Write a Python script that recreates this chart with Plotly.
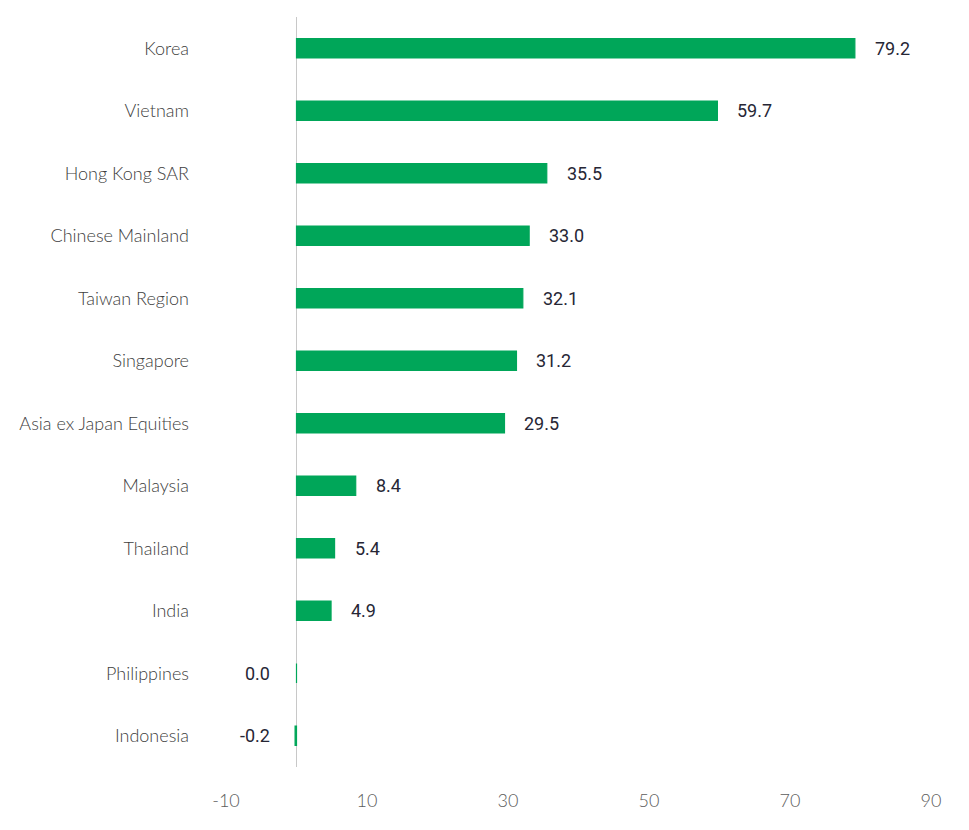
import plotly.graph_objects as go

# Data, listed top to bottom as in the chart
markets = ['Korea', 'Vietnam', 'Hong Kong SAR', 'Chinese Mainland', 'Taiwan Region',
           'Singapore', 'Asia ex Japan Equities', 'Malaysia', 'Thailand', 'India',
           'Philippines', 'Indonesia']
returns = [79.2, 59.7, 35.5, 33.0, 32.1, 31.2, 29.5, 8.4, 5.4, 4.9, 0.0, -0.2]
x_ticks = [-10, 10, 30, 50, 70, 90]

green = '#00A659'
label_font = 'Lato, sans-serif'

fig = go.Figure()

fig.add_trace(go.Bar(
    x=returns,
    y=markets,
    orientation='h',
    width=0.31,
    marker=dict(color=green, line=dict(color=green, width=1.2)),
    hoverinfo='x+y',
))

# value labels: right of positive bars, left of the axis for zero / negative
for m, v in zip(markets, returns):
    pos = v > 0
    fig.add_annotation(
        x=v if pos else 0,
        y=m,
        text=f'{v:.1f}',
        showarrow=False,
        xanchor='left' if pos else 'right',
        xshift=18 if pos else -25,
        font=dict(family='Roboto, Arial, sans-serif', size=18, color='#262635'),
    )

fig.update_layout(
    width=969,
    height=830,
    margin=dict(l=218, r=46, t=9, b=71),
    plot_bgcolor='white',
    paper_bgcolor='white',
    showlegend=False,
    xaxis=dict(
        range=[-10, 90],
        tickvals=x_ticks,
        ticktext=[str(t) for t in x_ticks],
        showgrid=False,
        zeroline=True,
        zerolinecolor='#c8c8c8',
        zerolinewidth=1,
        showline=False,
        ticks='',
        automargin=False,
        ticklabelstandoff=21,
        tickfont=dict(family=label_font, size=18, color='#5c5c5c', weight=300),
    ),
    yaxis=dict(
        autorange='reversed',
        showgrid=False,
        zeroline=False,
        showline=False,
        ticks='',
        automargin=False,
        ticklabelstandoff=36,
        tickfont=dict(family=label_font, size=18, color='#404040', weight=300),
    ),
)

fig.write_html('out.html')
